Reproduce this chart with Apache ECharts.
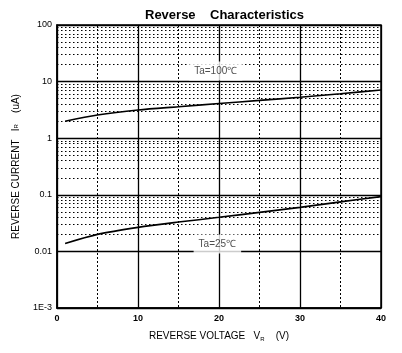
<!DOCTYPE html>
<html><head><meta charset="utf-8">
<script src="https://cdn.jsdelivr.net/npm/echarts@6/dist/echarts.min.js"></script>
<style>html,body{margin:0;padding:0;background:#fff}#c{width:402px;height:353px}</style>
</head><body><div id="c"></div>
<script>
// ---- data ----
const voltage = [1, 5, 10, 15, 20, 25, 30, 35, 40];
const current100 = [2.0, 2.57, 3.15, 3.6, 4.1, 4.65, 5.3, 6.1, 7.1];
const current25 = [0.0138, 0.020, 0.0266, 0.033, 0.040, 0.049, 0.060, 0.075, 0.093];
const xTicks = [0, 10, 20, 30, 40];
const yTickLabels = {"100":"100","10":"10","1":"1","0.1":"0.1","0.01":"0.01","0.001":"1E-3"};
const decades = [0.001, 0.01, 0.1, 1, 10];
const minorMult = [2, 3, 4, 5, 6, 7, 8, 9];
const curveLabels = ["Ta=100\u2103", "Ta=25\u2103"];
const labelAnchors = [[19.6, 15.4], [19.8, 0.0135]];

const minorLines = [];
decades.forEach(d => minorMult.forEach(m => minorLines.push({yAxis: +(d*m).toPrecision(3)})));

const chart = echarts.init(document.getElementById('c'), null, {renderer:'canvas'});
const F = 'Arial, "Liberation Sans", sans-serif';
chart.setOption({
  animation: false,
  backgroundColor: '#fff',
  title: {
    text: 'Reverse    Characteristics',
    left: 140, top: 4,
    textStyle: {fontFamily: F, fontSize: 13, fontWeight: 'bold', color: '#000'}
  },
  grid: {left: 57, right: 21, top: 25, bottom: 45, show: true, borderColor: '#000', borderWidth: 1.5},
  xAxis: {
    type: 'value', min: 0, max: 40, interval: 10,
    name: 'REVERSE VOLTAGE   V{sub|R}    (V)',
    nameLocation: 'middle', nameGap: 22,
    nameTextStyle: {fontFamily: F, fontSize: 10, color: '#000',
      rich: {sub: {fontSize: 6, fontFamily: F, color:'#000', verticalAlign: 'bottom', padding:[6,0,0,0]}}},
    axisLine: {show: true, lineStyle: {color: '#000', width: 1.5}},
    axisTick: {show: false},
    axisLabel: {fontFamily: F, fontSize: 9, fontWeight: 'bold', color: '#000', margin: 6},
    splitLine: {show: true, lineStyle: {color: '#000', width: 1.3}},
    minorTick: {show: false, splitNumber: 2},
    minorSplitLine: {show: true, lineStyle: {color: '#000', width: 1, type: [2, 2]}}
  },
  yAxis: {
    type: 'log', logBase: 10, min: 0.001, max: 100,
    name: 'REVERSE CURRENT   I{sub|R}    (uA)',
    nameLocation: 'middle', nameGap: 36, nameRotate: 90,
    nameTextStyle: {fontFamily: F, fontSize: 10, color: '#000',
      rich: {sub: {fontSize: 6, fontFamily: F, color:'#000'}}},
    axisLine: {show: true, lineStyle: {color: '#000', width: 1.5}},
    axisTick: {show: false},
    axisLabel: {fontFamily: F, fontSize: 9, color: '#000', margin: 5,
      formatter: v => { const k = String(+v.toPrecision(3)); return yTickLabels[k] !== undefined ? yTickLabels[k] : k; }},
    splitLine: {show: true, lineStyle: {color: '#000', width: 1.3}}
  },
  series: [
    {
      type: 'line', name: 'grid', data: [], silent: true, z: 1,
      markLine: {
        silent: true, symbol: ['none', 'none'], animation: false,
        label: {show: false},
        lineStyle: {color: '#000', width: 1, type: [1.5, 2.5]},
        emphasis: {disabled: true},
        data: minorLines
      }
    },
    {
      type: 'line', name: 'Ta=100', data: voltage.map((v, i) => [v, current100[i]]),
      smooth: 0.3, showSymbol: false, z: 3,
      lineStyle: {color: '#000', width: 1.6}
    },
    {
      type: 'line', name: 'Ta=25', data: voltage.map((v, i) => [v, current25[i]]),
      smooth: 0.3, showSymbol: false, z: 3,
      lineStyle: {color: '#000', width: 1.6}
    },
    {
      type: 'scatter', z: 6, silent: true,
      symbol: 'rect', symbolSize: 1, itemStyle: {color: 'rgba(0,0,0,0)'},
      data: labelAnchors.map((a, i) => ({value: a, name: curveLabels[i]})),
      label: {show: true, position: 'inside', formatter: p => p.name,
        fontFamily: F, fontSize: 10, color: '#222', backgroundColor: '#fff', padding: [4, 5, 5, 5]}
    }
  ]
});
</script></body></html>
